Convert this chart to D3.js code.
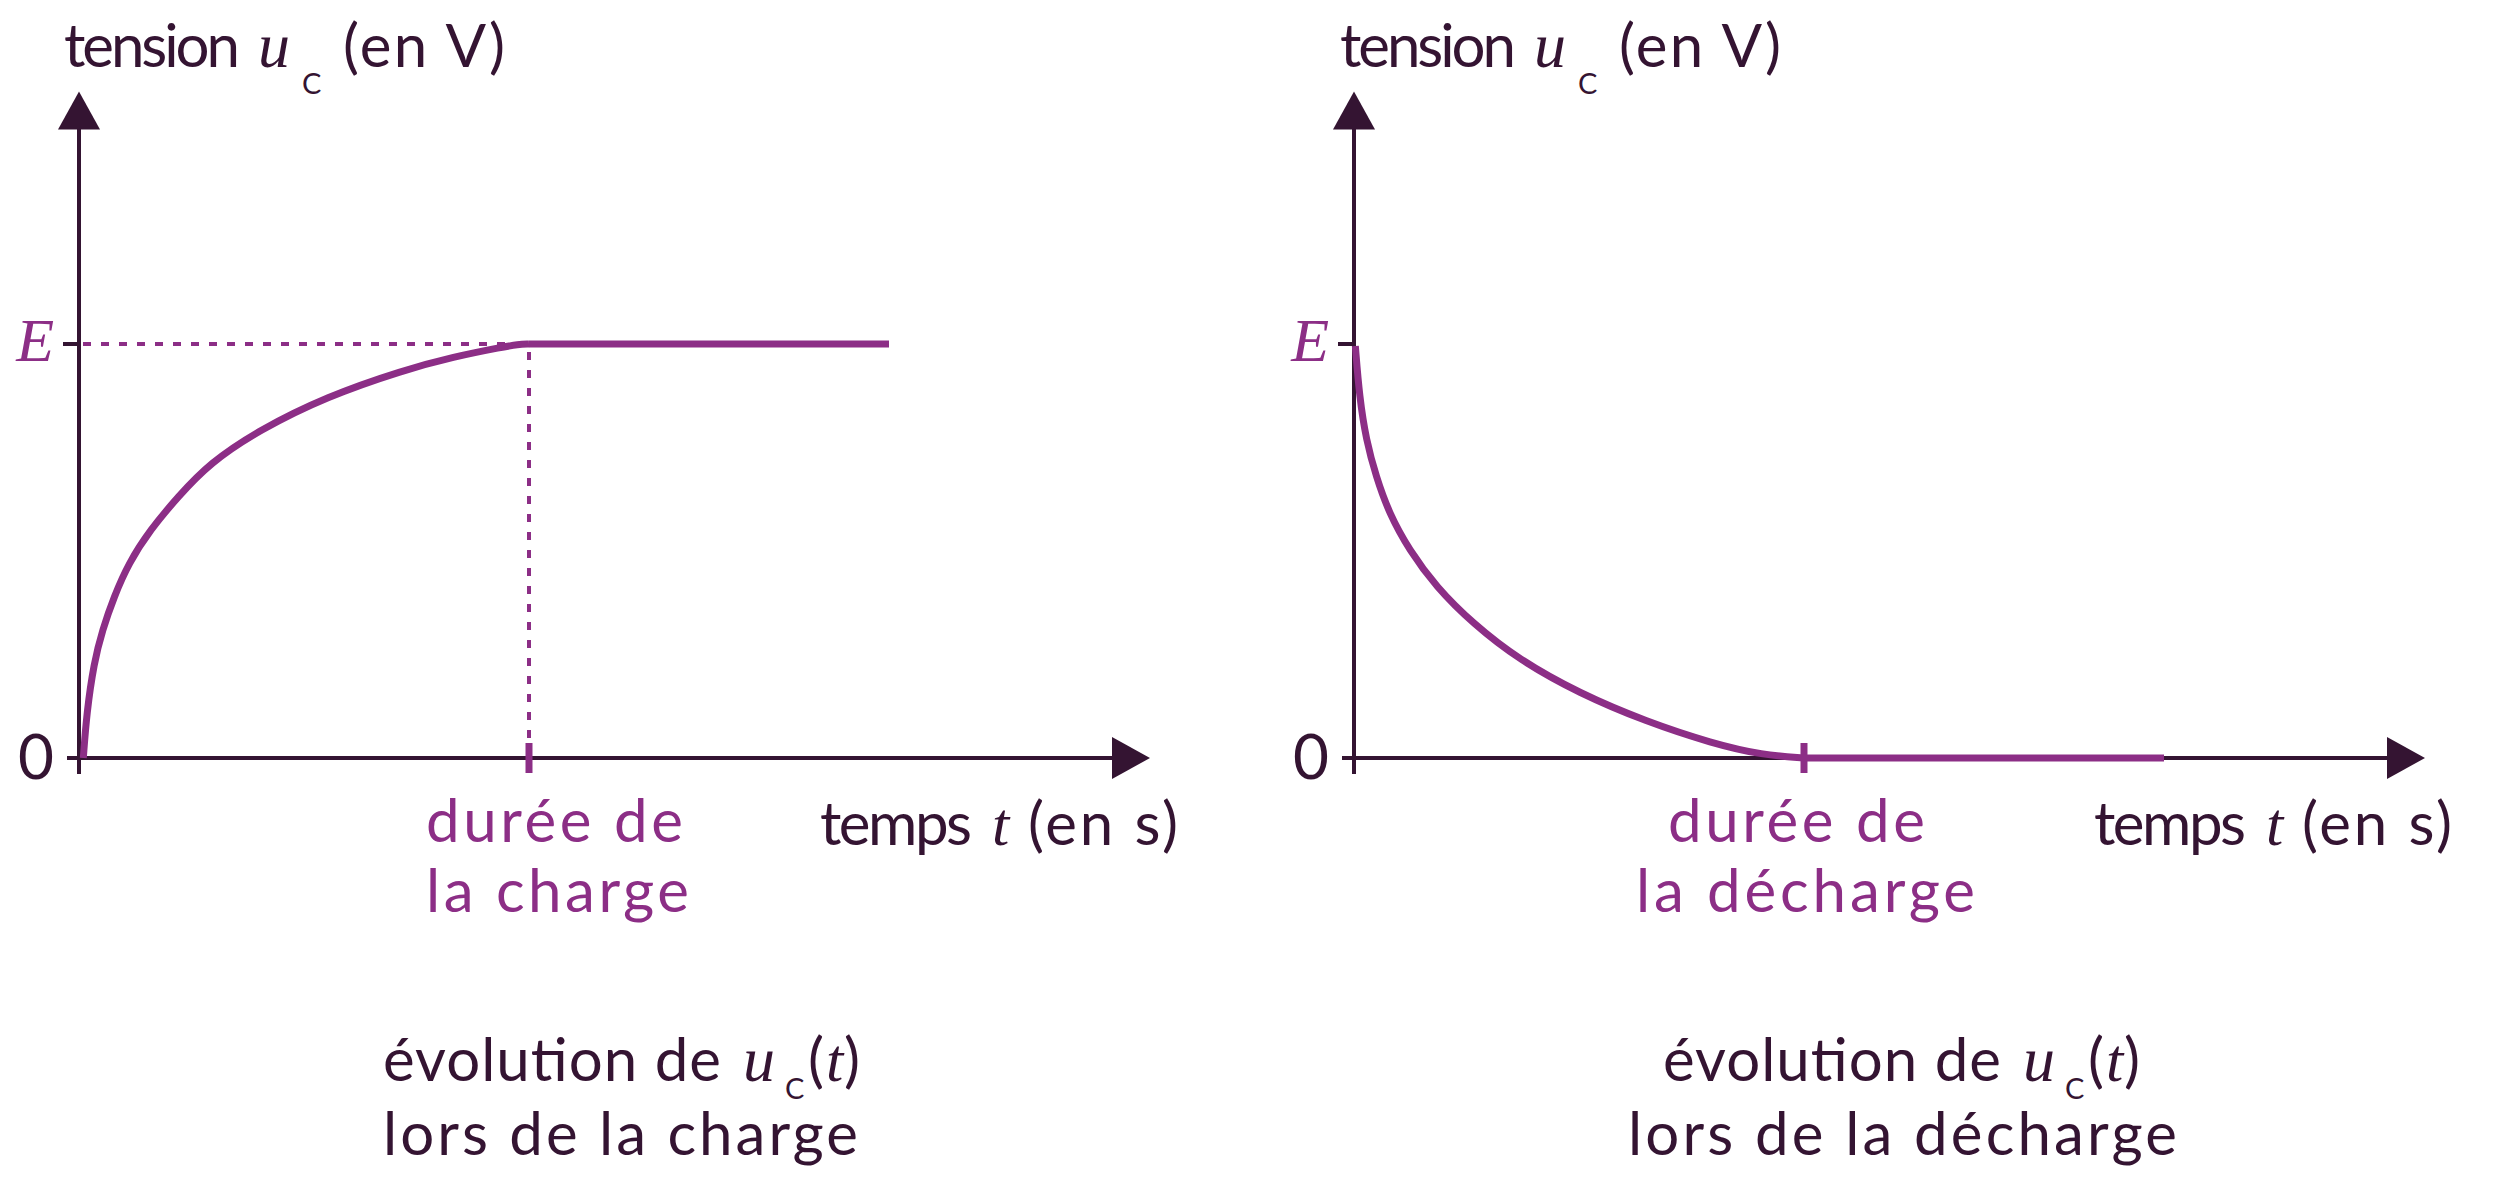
<!DOCTYPE html>
<html><head><meta charset="utf-8">
<script src="https://cdn.jsdelivr.net/npm/d3@7"></script>
<style>
html,body{margin:0;padding:0;background:#fff;}
svg{display:block;}
</style></head>
<body>
<svg id="chart" width="2501" height="1199"></svg>
<script>
// ---- data (time in units of the duration, tension in units of E)
const chargeTimes     = [0.0096, 0.017, 0.033, 0.052, 0.078, 0.110, 0.158, 0.220, 0.290, 0.400, 0.550, 0.721, 0.832, 0.943, 0.975, 1.0];
const chargeValues    = [0,      0.108, 0.229, 0.309, 0.390, 0.470, 0.551, 0.631, 0.712, 0.792, 0.873, 0.937, 0.969, 0.993, 0.999, 1.0];
const dischargeTimes  = [0.003, 0.012, 0.027, 0.049, 0.078, 0.123, 0.182, 0.264, 0.367, 0.501, 0.649, 0.797, 0.908, 1.0];
const dischargeValues = [0.995, 0.873, 0.768, 0.680, 0.591, 0.502, 0.414, 0.325, 0.237, 0.156, 0.088, 0.035, 0.007, 0];
const plateauEnd = 1.8;           // end of the flat part after the duration
const yTickValues = [0, 1];
const yTickLabels = ["0", "E"];
const durationValue = 1;
const panelNames = ["charge", "décharge"];

const PURPLE = "#8c2e86", DARK = "#341432";
const SANS = "Lato, 'Open Sans', sans-serif", SERIF = "'Liberation Serif', 'DejaVu Serif', serif";
const FS = 60;
const svg = d3.select("#chart");

const panels = [
  {ox: 79, times: chargeTimes, values: chargeValues, name: panelNames[0], dashed: true,
   dur: [[426, 257], [426, 263]], temps: 820, titleX: 64,
   cap: {x: 383, w2: 475}},
  {ox: 1354, times: dischargeTimes, values: dischargeValues, name: panelNames[1], dashed: false,
   dur: [[1668, 257], [1636, 339]], temps: 2094, titleX: 1340,
   cap: {x: 1663, x2: 1628, w2: 549}}
];
const OY = 758;

function txt(g, x, y, s, opts = {}) {
  const t = g.append("text").attr("x", x).attr("y", y).attr("fill", opts.fill || DARK)
    .attr("font-family", opts.serif ? SERIF : SANS).attr("font-size", opts.size || FS).text(s);
  if (opts.serif) t.attr("font-style", "italic");
  if (opts.len) t.attr("textLength", opts.len).attr("lengthAdjust", opts.adj || "spacing");
  if (opts.anchor) t.attr("text-anchor", opts.anchor);
  return t;
}

panels.forEach(p => {
  const g = svg.append("g");
  const x = d3.scaleLinear().domain([0, 1]).range([p.ox, p.ox + 450]);
  const y = d3.scaleLinear().domain([0, 1]).range([OY, 344]);
  const xMax = 2.38, yMax = 1.61;
  const arrowLen = 38, arrowHalf = 21;

  // axes
  g.append("line").attr("x1", x(0)).attr("x2", x(0)).attr("y1", OY + 16).attr("y2", y(yMax) + arrowLen - 2)
    .attr("stroke", DARK).attr("stroke-width", 4);
  g.append("line").attr("x1", x(0) - 12).attr("x2", x(xMax) - arrowLen + 2).attr("y1", OY).attr("y2", OY)
    .attr("stroke", DARK).attr("stroke-width", 4);
  g.append("path").attr("d", `M${x(0)},${y(yMax)} L${x(0)-arrowHalf},${y(yMax)+arrowLen} L${x(0)+arrowHalf},${y(yMax)+arrowLen}Z`).attr("fill", DARK);
  g.append("path").attr("d", `M${x(xMax)},${OY} L${x(xMax)-arrowLen},${OY-arrowHalf} L${x(xMax)-arrowLen},${OY+arrowHalf}Z`).attr("fill", DARK);

  // E tick
  g.append("line").attr("x1", x(0) - 16).attr("x2", x(0)).attr("y1", y(1)).attr("y2", y(1))
    .attr("stroke", DARK).attr("stroke-width", 4);

  // y tick labels
  txt(g, x(0) - 25, y(yTickValues[1]) + 17, yTickLabels[1], {serif: true, size: 62, fill: PURPLE, anchor: "end"});
  txt(g, x(0) - 25, y(yTickValues[0]) + 21, yTickLabels[0], {size: 62, anchor: "end"});

  // dashed guides
  if (p.dashed) {
    g.append("line").attr("x1", x(0) + 4).attr("x2", x(durationValue)).attr("y1", y(1)).attr("y2", y(1))
      .attr("stroke", PURPLE).attr("stroke-width", 4).attr("stroke-dasharray", "8 10");
    g.append("line").attr("x1", x(durationValue)).attr("x2", x(durationValue)).attr("y1", y(1) + 8).attr("y2", OY)
      .attr("stroke", PURPLE).attr("stroke-width", 4).attr("stroke-dasharray", "8 10");
  }

  // curve (smooth) + plateau (straight)
  const line = d3.line().x((d, i) => x(p.times[i])).y(d => y(d)).curve(d3.curveBasis);
  g.append("path").attr("d", line(p.values)).attr("fill", "none").attr("stroke", PURPLE)
    .attr("stroke-width", 7).attr("stroke-linecap", "butt");
  const last = p.values[p.values.length - 1];
  g.append("path").attr("d", d3.line()([[x(durationValue), y(last)], [x(plateauEnd), y(last)]]))
    .attr("fill", "none").attr("stroke", PURPLE).attr("stroke-width", 7).attr("stroke-linecap", "butt");

  // duration tick
  g.append("line").attr("x1", x(durationValue)).attr("x2", x(durationValue)).attr("y1", OY - 15).attr("y2", OY + 15)
    .attr("stroke", PURPLE).attr("stroke-width", 7);

  // duration label
  txt(g, p.dur[0][0], 842, "durée de", {fill: PURPLE, len: p.dur[0][1]});
  txt(g, p.dur[1][0], 912, "la " + p.name, {fill: PURPLE, len: p.dur[1][1]});

  // x axis title
  const tx = p.temps;
  txt(g, tx, 845, "temps", {len: 152});
  txt(g, tx + 172, 845, "t", {serif: true, size: 62});
  txt(g, tx + 208, 845, "(en s)", {len: 150});

  // y axis title
  const ty = p.titleX;
  txt(g, ty, 67, "tension", {len: 176});
  txt(g, ty + 194, 67, "u", {serif: true, size: 64});
  txt(g, ty + 238, 94, "C", {size: 29});
  txt(g, ty + 279, 67, "(en V)", {len: 162});

  // caption
  const cx = p.cap.x;
  txt(g, cx, 1081, "évolution de", {len: 338});
  txt(g, cx + 360, 1081, "u", {serif: true, size: 64});
  txt(g, cx + 402, 1099, "C", {size: 29});
  txt(g, cx + 425, 1081, "(");
  txt(g, cx + 443, 1081, "t", {serif: true, size: 62});
  txt(g, cx + 461, 1081, ")");
  txt(g, p.cap.x2 || cx, 1155, "lors de la " + p.name, {len: p.cap.w2});
});
</script>
</body></html>
